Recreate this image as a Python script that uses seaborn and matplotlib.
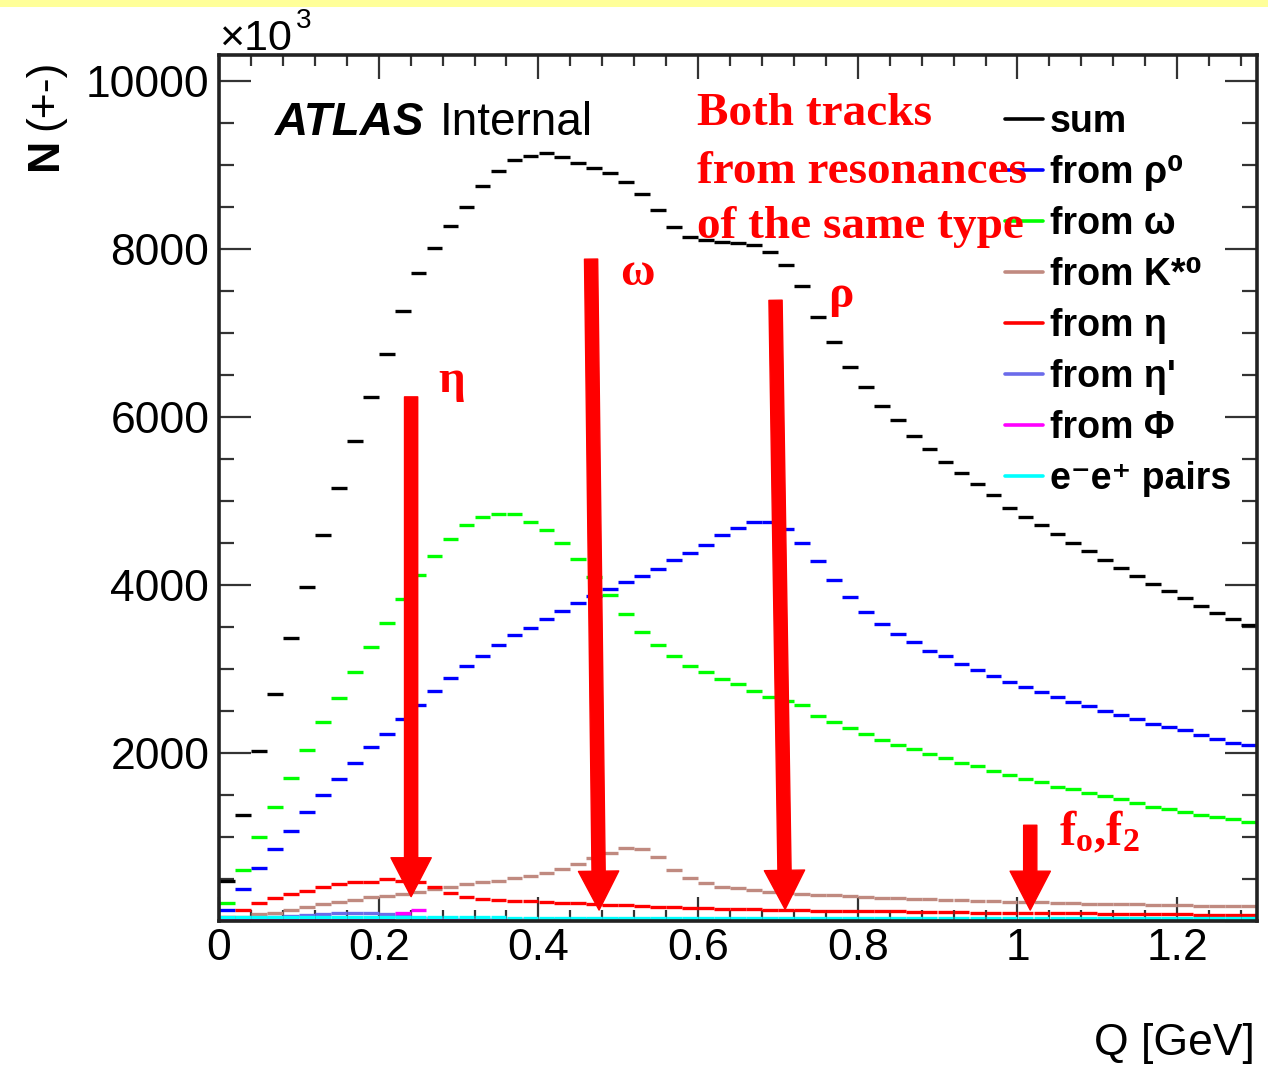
import numpy as np
import pandas as pd
import matplotlib
matplotlib.use("Agg")
import matplotlib.pyplot as plt
import seaborn as sns
from matplotlib.lines import Line2D
from matplotlib.patches import Rectangle
from matplotlib.ticker import MultipleLocator

# ---------------------------------------------------------------- data
# Q histogram: 65 bins of 20 MeV from 0 to 1.3 GeV (values in units of 10^3)
bin_width = 0.02
q_centers = np.round(np.arange(65) * bin_width + bin_width / 2, 3)

sum_all = [480, 1260, 2020, 2700, 3370, 3980, 4600, 5160, 5710, 6240,
           6750, 7260, 7720, 8010, 8270, 8500, 8750, 8930, 9060, 9110,
           9140, 9100, 9030, 8960, 8900, 8800, 8660, 8460, 8260, 8140,
           8110, 8080, 8075, 8050, 7960, 7810, 7560, 7190, 6890, 6600,
           6360, 6130, 5960, 5780, 5620, 5470, 5330, 5200, 5070, 4920,
           4810, 4710, 4610, 4500, 4400, 4300, 4200, 4110, 4010, 3930,
           3840, 3750, 3670, 3600, 3520]

from_rho0 = [130, 380, 630, 860, 1070, 1300, 1500, 1690, 1880, 2070,
             2230, 2400, 2570, 2740, 2890, 3030, 3150, 3280, 3400, 3490,
             3600, 3690, 3780, 3870, 3950, 4030, 4110, 4190, 4300, 4380,
             4480, 4600, 4680, 4750, 4750, 4670, 4500, 4290, 4060, 3860,
             3680, 3540, 3420, 3320, 3220, 3150, 3060, 2990, 2920, 2850,
             2790, 2730, 2670, 2610, 2560, 2500, 2450, 2400, 2350, 2310,
             2270, 2210, 2170, 2120, 2100]

from_omega = [220, 607, 1000, 1360, 1700, 2040, 2370, 2650, 2960, 3260,
              3550, 3830, 4120, 4350, 4550, 4710, 4810, 4850, 4850, 4750,
              4650, 4500, 4310, 4100, 3880, 3660, 3440, 3290, 3150, 3040,
              2960, 2880, 2820, 2740, 2670, 2620, 2570, 2440, 2370, 2300,
              2230, 2160, 2100, 2050, 1990, 1940, 1880, 1840, 1790, 1740,
              1690, 1650, 1600, 1570, 1520, 1490, 1450, 1410, 1360, 1330,
              1300, 1260, 1240, 1210, 1180]

from_kstar0 = [30, 50, 80, 100, 130, 170, 200, 230, 250, 280,
               300, 320, 350, 380, 410, 440, 460, 480, 510, 540,
               575, 615, 675, 745, 805, 865, 857, 760, 607, 510,
               450, 410, 390, 365, 350, 335, 325, 315, 305, 295,
               285, 275, 268, 262, 258, 255, 245, 240, 235, 232,
               228, 225, 215, 210, 208, 205, 203, 200, 190, 188,
               185, 183, 180, 178, 175]

from_eta = [50, 130, 210, 270, 320, 357, 400, 440, 460, 470,
            500, 480, 460, 400, 330, 280, 260, 250, 240, 240,
            230, 220, 210, 200, 190, 185, 180, 170, 165, 155,
            150, 145, 145, 140, 135, 130, 130, 125, 125, 120,
            120, 115, 115, 110, 110, 105, 105, 100, 100, 100,
            95, 95, 90, 90, 90, 85, 85, 85, 80, 80,
            80, 75, 75, 75, 70]

from_etaprime = [15, 25, 35, 45, 55, 70, 85, 100, 100, 95,
                 80, 60, 40, 30, 25, 25, 22, 22, 20, 20,
                 20, 20, 18, 18, 18, 18, 18, 16, 16, 16,
                 16, 16, 15, 15, 15, 15, 15, 15, 15, 15,
                 15, 15, 15, 15, 15, 15, 15, 15, 15, 15,
                 15, 15, 15, 15, 15, 15, 15, 15, 15, 15,
                 15, 15, 15, 15, 15]

from_phi = [10, 10, 10, 10, 10, 10, 10, 10, 10, 10,
            10, 100, 130, 20, 8, 6, 5, 5, 5, 5,
            5, 5, 5, 5, 5, 5, 5, 5, 5, 5,
            5, 5, 5, 5, 5, 5, 5, 5, 5, 5,
            5, 5, 5, 5, 5, 5, 5, 5, 5, 5,
            5, 5, 5, 5, 5, 5, 5, 5, 5, 5,
            5, 5, 5, 5, 5]

ee_pairs = [50, 50, 50, 50, 50, 50, 50, 50, 45, 45,
            45, 45, 45, 45, 45, 45, 45, 45, 40, 40,
            40, 40, 40, 40, 40, 35, 35, 35, 35, 35,
            35, 35, 35, 35, 35, 35, 35, 35, 35, 35,
            35, 35, 35, 35, 35, 35, 35, 35, 35, 35,
            40, 40, 40, 40, 40, 40, 40, 40, 40, 40,
            40, 40, 40, 40, 40]

series_labels = ["sum", "from ρ⁰", "from ω", "from K*⁰", "from η",
                 "from η'", "from Φ", "e⁻e⁺ pairs"]
series_values = [sum_all, from_rho0, from_omega, from_kstar0, from_eta,
                 from_etaprime, from_phi, ee_pairs]
series_colors = ["#000000", "#0000ff", "#00ff00", "#c08a80", "#ff0000",
                 "#6b6bea", "#ff00ff", "#00ffff"]

x_ticks = [0, 0.2, 0.4, 0.6, 0.8, 1.0, 1.2]
x_tick_labels = ["0", "0.2", "0.4", "0.6", "0.8", "1", "1.2"]
y_ticks = [0, 2000, 4000, 6000, 8000, 10000]
y_tick_labels = ["", "2000", "4000", "6000", "8000", "10000"]

# resonance markers: arrow tails and tips in (Q, N)
arrow_tails_q = [0.2406, 0.466, 0.697, 1.016]
arrow_tails_n = [6240, 7880, 7390, 1140]
arrow_tips_q = [0.2406, 0.476, 0.709, 1.016]
arrow_tips_n = [290, 130, 140, 130]

long_df = pd.DataFrame({
    "Q": np.tile(q_centers, len(series_labels)),
    "N": np.concatenate([np.asarray(v, float) for v in series_values]),
    "source": np.repeat(series_labels, len(q_centers)),
})

# ---------------------------------------------------------------- style
sns.set_theme(style="white")
plt.rcParams["font.family"] = ["Liberation Sans", "DejaVu Sans"]
plt.rcParams["text.color"] = "black"
plt.rcParams["axes.labelcolor"] = "black"
plt.rcParams["mathtext.fontset"] = "custom"
plt.rcParams["mathtext.rm"] = "Liberation Serif:bold"
plt.rcParams["mathtext.it"] = "Liberation Serif:bold"
plt.rcParams["mathtext.bf"] = "Liberation Serif:bold"

W, H = 1268, 1067
fig = plt.figure(figsize=(W / 100, H / 100), dpi=100)
fig.patch.set_facecolor("white")
fig.patches.append(Rectangle((0, 1 - 7 / H), 1, 7 / H, transform=fig.transFigure,
                             facecolor="#ffff99", edgecolor="none"))

ax = fig.add_axes([219 / W, 1 - 921 / H, (1257 - 219) / W, (921 - 55) / H])
ax.set_facecolor("white")

# histogram contents drawn as horizontal bin segments
sns.scatterplot(data=long_df, x="Q", y="N", hue="source",
                palette=dict(zip(series_labels, series_colors)),
                hue_order=series_labels, marker="_", s=128, linewidth=2.4,
                legend=False, ax=ax, zorder=2)

ax.set_xlim(0, 1.3)
ax.set_ylim(0, 10310)
ax.set_xlabel("")
ax.set_ylabel("")

# ---------------------------------------------------------------- axes frame / ticks
for sp in ax.spines.values():
    sp.set_visible(True)
    sp.set_color("#222222")
    sp.set_linewidth(2.6)
    sp.set_zorder(5)

ax.set_xticks(x_ticks)
ax.set_xticklabels(x_tick_labels)
ax.set_yticks(y_ticks)
ax.set_yticklabels(y_tick_labels)
ax.xaxis.set_minor_locator(MultipleLocator(0.04))
ax.yaxis.set_minor_locator(MultipleLocator(500))
ax.tick_params(axis="both", which="both", direction="in", top=True, right=True,
               bottom=True, left=True, colors="#333333", labelcolor="black",
               width=1.6, labelsize=32)
ax.tick_params(axis="x", which="major", length=17, pad=5)
ax.tick_params(axis="x", which="minor", length=8)
ax.tick_params(axis="y", which="major", length=23, pad=7)
ax.tick_params(axis="y", which="minor", length=11)

# axis titles
ax.text((1255 - 219) / 1038, (921 - 1055) / 866, "Q [GeV]", transform=ax.transAxes,
        ha="right", va="baseline", fontsize=32)
ax.text(-0.1676, (921 - 170) / 866, "N", transform=ax.transAxes, rotation=90,
        ha="center", va="bottom", fontsize=32, fontweight="bold")
ax.text(-0.1676, (921 - 130) / 866, "(+-)", transform=ax.transAxes, rotation=90,
        ha="center", va="bottom", fontsize=32)
ax.text(0.0, (921 - 50) / 866, "×10", transform=ax.transAxes,
        ha="left", va="baseline", fontsize=31, clip_on=False)
ax.text((296 - 219) / 1038, (921 - 28) / 866, "3", transform=ax.transAxes,
        ha="left", va="baseline", fontsize=20, clip_on=False)

# experiment tag
ax.text((275 - 219) / 1038, (921 - 135) / 866, "ATLAS", transform=ax.transAxes,
        ha="left", va="baseline", fontsize=33, fontweight="bold", fontstyle="italic")
ax.text((440 - 219) / 1038, (921 - 135) / 866, "Internal", transform=ax.transAxes,
        ha="left", va="baseline", fontsize=33)

# ---------------------------------------------------------------- legend
handles = [Line2D([], [], color=c, lw=2.6) for c in series_colors]
ax.legend(handles, series_labels, loc="upper left",
          bbox_to_anchor=((1005 - 219) / 1038, (921 - 104) / 866),
          frameon=False, borderpad=0, borderaxespad=0,
          handlelength=1.0, handletextpad=0.2, labelspacing=0.40,
          prop={"family": ["Liberation Sans", "DejaVu Sans"],
                "weight": "bold", "size": 27})

# ---------------------------------------------------------------- annotations
red = "#ff0000"
serif_bold = dict(family="Liberation Serif", fontweight="bold", color=red, fontsize=34)

for tq, tn, hq, hn in zip(arrow_tails_q, arrow_tails_n, arrow_tips_q, arrow_tips_n):
    ax.annotate("", xy=(hq, hn), xytext=(tq, tn), xycoords="data", textcoords="data",
                arrowprops=dict(arrowstyle="simple,head_length=28,head_width=29,tail_width=9.5",
                                mutation_scale=1, color=red, shrinkA=0, shrinkB=0),
                zorder=6)

ax.text(0.2744, 6298, "η", ha="left", va="baseline", zorder=6, **serif_bold)
ax.text(0.5025, 7571, "ω", ha="left", va="baseline", zorder=6, **serif_bold)
ax.text(0.763, 7310, "ρ", ha="left", va="baseline", zorder=6, **serif_bold)
ax.text(1.0514, 905, r"$\mathrm{f_{o}{,}f_{2}}$", ha="left", va="baseline",
        color=red, fontsize=35, zorder=6)

ax.text(0.599, 9476, "Both tracks", ha="left", va="baseline", zorder=6, **serif_bold)
ax.text(0.599, 8786, "from resonances", ha="left", va="baseline", zorder=6, **serif_bold)
ax.text(0.599, 8131, "of the same type", ha="left", va="baseline", zorder=6, **serif_bold)

fig.savefig("out.png", dpi=100)
